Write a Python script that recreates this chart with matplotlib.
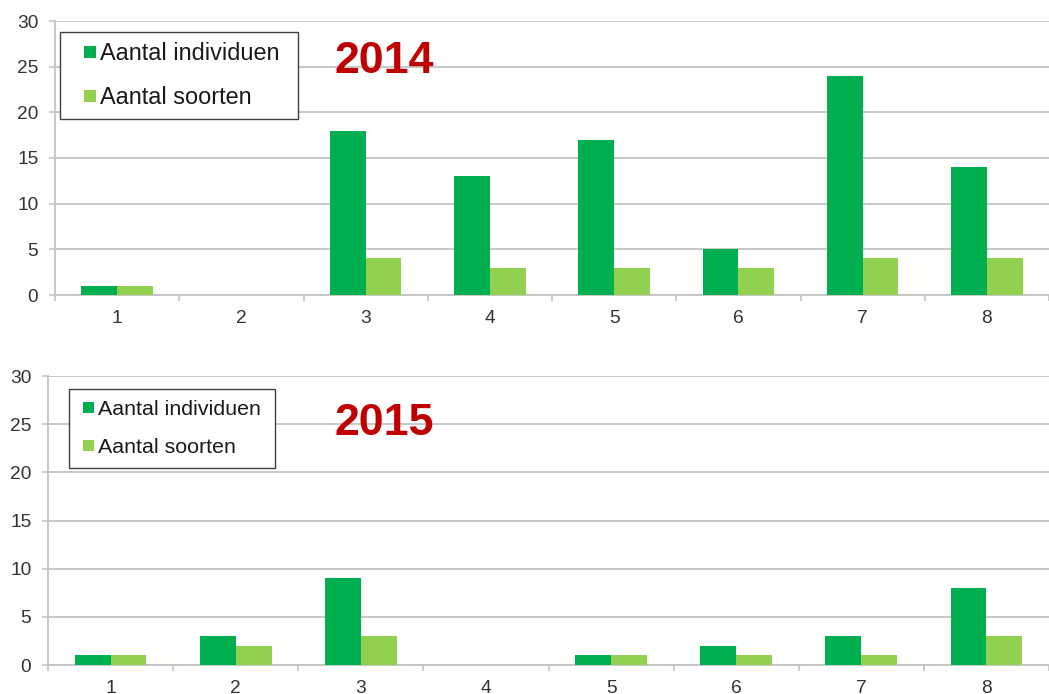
import matplotlib
matplotlib.use("Agg")
import matplotlib.pyplot as plt
from matplotlib.patches import Rectangle
from matplotlib.legend_handler import HandlerPatch
import numpy as np

plt.rcParams['font.family'] = ['Liberation Sans', 'DejaVu Sans']

# Data
locations = [1, 2, 3, 4, 5, 6, 7, 8]
individuen_2014 = [1, 0, 18, 13, 17, 5, 24, 14]
soorten_2014 = [1, 0, 4, 3, 3, 3, 4, 4]
individuen_2015 = [1, 3, 9, 0, 1, 2, 3, 8]
soorten_2015 = [1, 2, 3, 0, 1, 1, 1, 3]
series_labels = ["Aantal individuen", "Aantal soorten"]
years = ["2014", "2015"]

DARK = "#00B050"
LIGHT = "#92D050"
GRID = "#c4c4c4"
TEXT = "#333333"

W, H = 1049, 694
fig = plt.figure(figsize=(W / 100, H / 100), dpi=100)


def px_axes(left, top, right, bottom):
    return fig.add_axes([left / W, 1 - bottom / H, (right - left) / W, (bottom - top) / H])


class SquareRight(HandlerPatch):
    """Small square legend key aligned to the right end of the handle box."""

    def __init__(self, side_px, **kw):
        super().__init__(**kw)
        self.side_px = side_px

    def create_artists(self, legend, orig_handle, xdescent, ydescent,
                       width, height, fontsize, trans):
        s = self.side_px * 72.0 / fig.dpi
        p = Rectangle((width - xdescent - s, -ydescent + (height - s) / 2), s, s,
                      facecolor=orig_handle.get_facecolor(), edgecolor="none",
                      transform=trans)
        return [p]


def draw_panel(ax, indiv, soort, year, step, legend_fs, legend_rect,
               handle_len, square_px, pad, spacing, year_xy):
    x = np.array(locations, dtype=float)
    bw = 0.287
    b1 = ax.bar(x - bw / 2, indiv, width=bw, color=DARK, zorder=3)
    b2 = ax.bar(x + bw / 2, soort, width=bw, color=LIGHT, zorder=3)

    width_px = ax.get_position().width * W
    ax.set_xlim(0.5, 0.5 + width_px / step)
    ax.set_ylim(0, 30)
    ax.set_yticks(range(0, 31, 5))
    ax.yaxis.grid(True, color=GRID, linewidth=1.3, zorder=0)
    ax.set_axisbelow(True)

    for s in ("top", "right"):
        ax.spines[s].set_visible(False)
    for s in ("left", "bottom"):
        ax.spines[s].set_color(GRID)
        ax.spines[s].set_linewidth(1.3)

    ax.set_xticks(x)
    ax.set_xticklabels([str(v) for v in locations])
    ax.set_xticks(np.arange(0.5, 9, 1.0), minor=True)
    ax.tick_params(axis="x", which="major", length=0, pad=11,
                   labelsize=13.8, labelcolor=TEXT)
    ax.tick_params(axis="x", which="minor", length=4, width=1.2, color=GRID)
    ax.tick_params(axis="y", which="major", length=4.5, width=1.2, color=GRID,
                   pad=7.5, labelsize=13.8, labelcolor=TEXT)

    lx0, ly0, lx1, ly1 = legend_rect
    bbox = (lx0 / W, 1 - ly1 / H, (lx1 - lx0) / W, (ly1 - ly0) / H)
    leg = ax.legend(handles=[b1.patches[0], b2.patches[0]], labels=series_labels,
                    loc="upper left", bbox_to_anchor=bbox,
                    bbox_transform=fig.transFigure, mode="expand",
                    fontsize=legend_fs, frameon=True, fancybox=False,
                    edgecolor="#404040", framealpha=1,
                    handlelength=handle_len, handleheight=0.7, handletextpad=0.17,
                    labelspacing=spacing, borderpad=pad, borderaxespad=0,
                    handler_map={Rectangle: SquareRight(square_px)})
    leg.get_frame().set_linewidth(1.0)
    for t in leg.get_texts():
        t.set_color("#1a1a1a")

    fig.text(year_xy[0] / W, 1 - year_xy[1] / H, year, color="#C00000",
             fontsize=32.2, fontweight="bold", ha="left", va="baseline", zorder=5)


ax1 = px_axes(55, 21, W, 295)
draw_panel(ax1, individuen_2014, soorten_2014, years[0], step=125.3,
           legend_fs=16.9, legend_rect=(60, 32, 298, 117),
           handle_len=1.1, square_px=12, pad=0.42, spacing=0.9,
           year_xy=(335, 73))

ax2 = px_axes(48, 376, W, 665)
draw_panel(ax2, individuen_2015, soorten_2015, years[1], step=126.7,
           legend_fs=15.4, legend_rect=(69, 389, 275, 467),
           handle_len=0.67, square_px=11, pad=0.5, spacing=0.9,
           year_xy=(335, 435))

fig.savefig("out.png", dpi=100, facecolor="white")
